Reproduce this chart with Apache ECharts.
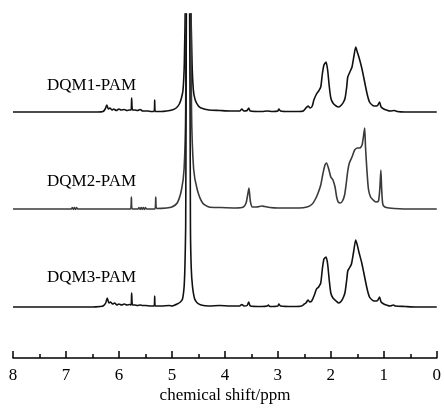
<!DOCTYPE html>
<html>
<head>
<meta charset="utf-8">
<script src="https://cdn.jsdelivr.net/npm/echarts@6/dist/echarts.min.js"></script>
<style>html,body{margin:0;padding:0;background:#fff}#c{width:444px;height:412px}</style>
</head>
<body>
<div id="c"></div>
<script>
// x ticks
const xTicks = [8, 7, 6, 5, 4, 3, 2, 1, 0];
const seriesNames = ['DQM1-PAM', 'DQM2-PAM', 'DQM3-PAM'];

// DQM1-PAM spectrum: [ppm, intensity]
const dqm1 = [[8.0,0],[7.0,0],[6.4,0],[6.3,0.5],[6.26,3],[6.23,7],[6.2,3],[6.17,4],[6.13,2],[6.1,3],[6.05,1.5],[6.0,3],[5.96,2],[5.9,2.5],[5.85,1.5],[5.8,2],[5.77,2],[5.76,14],[5.745,2],[5.7,2],[5.65,1.5],[5.6,2.5],[5.55,1],[5.45,1],[5.4,0.5],[5.335,0.5],[5.325,12],[5.315,0.5],[5.2,0.5],[5.1,1],[5.0,2],[4.92,4],[4.86,8],[4.82,14],[4.79,22],[4.765,50],[4.745,120],[4.728,400],[4.662,400],[4.645,120],[4.62,50],[4.595,22],[4.56,12],[4.5,6],[4.45,4],[4.3,2],[4.1,1.5],[3.9,1],[3.72,1],[3.68,3],[3.64,1],[3.58,1.5],[3.55,4],[3.52,1],[3.3,0.5],[3.2,1],[3.1,0.5],[3.0,1],[2.98,3],[2.95,1],[2.8,0.5],[2.6,0.5],[2.52,1],[2.47,4],[2.43,6],[2.39,4],[2.35,6],[2.32,12],[2.27,18],[2.23,21],[2.19,25],[2.16,38],[2.13,47],[2.09,50],[2.06,42],[2.03,26],[2.0,14],[1.96,9],[1.9,6],[1.85,5],[1.8,7],[1.76,10],[1.73,14],[1.7,25],[1.68,35],[1.64,40],[1.6,45],[1.56,57],[1.53,65],[1.5,60],[1.47,55],[1.42,45],[1.38,35],[1.35,27],[1.31,17],[1.27,10],[1.22,7],[1.18,6],[1.14,6],[1.11,7],[1.08,10],[1.05,5],[1.0,3],[0.95,2],[0.88,1],[0.8,1.5],[0.75,0.5],[0.6,0],[0,0]];

// DQM2-PAM spectrum
const dqm2 = [[8.0,0],[7.0,0],[6.9,0],[6.88,1.5],[6.86,-0.5],[6.84,1.5],[6.82,-0.5],[6.8,1.5],[6.78,0],[6.3,0],[5.78,0],[5.765,12],[5.75,0],[5.64,0],[5.62,1.5],[5.6,-0.5],[5.58,1.5],[5.56,-0.5],[5.54,1.5],[5.52,-0.5],[5.5,1.5],[5.48,0],[5.32,0],[5.305,12],[5.29,0.5],[5.1,1],[5.0,2],[4.9,6],[4.82,19],[4.77,40],[4.74,100],[4.72,400],[4.67,400],[4.63,100],[4.59,40],[4.52,19],[4.42,6],[4.3,2],[4.1,1.5],[3.8,1],[3.65,2],[3.6,6],[3.57,14],[3.545,21],[3.52,8],[3.48,2],[3.4,2],[3.3,3],[3.25,2.5],[3.15,1.5],[3.0,1],[2.6,1],[2.45,2],[2.35,5],[2.29,10],[2.24,16],[2.19,24],[2.15,35],[2.11,44],[2.08,46],[2.04,40],[2.0,32],[1.96,29],[1.92,22],[1.89,12],[1.86,7],[1.82,6],[1.78,8],[1.74,14],[1.71,25],[1.68,38],[1.65,46],[1.6,52],[1.55,59],[1.5,61],[1.45,61],[1.41,64],[1.38,74],[1.36,81],[1.345,62],[1.32,40],[1.29,20],[1.25,12],[1.2,9],[1.15,7],[1.1,8],[1.075,20],[1.055,39],[1.04,20],[1.02,5],[0.98,2],[0.9,1],[0.8,0.5],[0.5,0],[0,0]];

// DQM3-PAM spectrum
const dqm3 = [[8.0,0],[6.5,0],[6.35,0.5],[6.3,1],[6.25,4],[6.22,9],[6.19,4],[6.16,5],[6.12,3],[6.08,4],[6.04,2],[6.0,3],[5.95,2],[5.9,3],[5.85,2],[5.8,2.5],[5.77,2],[5.76,14],[5.745,2],[5.7,2],[5.65,1.5],[5.6,2],[5.55,1.5],[5.5,1.5],[5.4,1],[5.335,1],[5.325,11],[5.315,1],[5.2,1],[5.05,1.5],[5.0,1],[4.9,3],[4.84,5],[4.8,8],[4.77,20],[4.755,39],[4.74,80],[4.714,400],[4.676,400],[4.65,80],[4.635,39],[4.61,20],[4.57,8],[4.52,4],[4.45,2],[4.3,1],[4.1,1.5],[3.9,1],[3.72,1],[3.68,2.5],[3.64,1],[3.58,1.5],[3.55,5],[3.52,1],[3.3,0.5],[3.2,1],[3.18,2],[3.15,0.5],[3.0,1],[2.98,3],[2.95,1],[2.7,0.5],[2.55,1],[2.5,3],[2.47,4],[2.43,7],[2.4,5],[2.36,6],[2.31,12],[2.27,18],[2.23,20],[2.19,24],[2.16,38],[2.13,48],[2.09,50],[2.06,43],[2.03,27],[2.0,14],[1.96,9],[1.9,6],[1.85,4],[1.8,6],[1.76,10],[1.73,15],[1.7,27],[1.68,36],[1.65,39],[1.61,43],[1.57,55],[1.53,67],[1.5,62],[1.47,55],[1.42,45],[1.38,35],[1.35,27],[1.31,17],[1.27,10],[1.22,7],[1.18,6],[1.14,6],[1.11,7],[1.08,10],[1.05,5],[1.0,3],[0.95,2],[0.88,1],[0.82,2],[0.78,1],[0.6,0.5],[0.4,0],[0,0]];

// vertical stacking offsets (layout)
const offsets = [246, 149, 51];
const colors = ['#111', '#3a3a3a', '#111'];
const spectra = [dqm1, dqm2, dqm3];

const FONT = '"Liberation Serif","Times New Roman",serif';
const chart = echarts.init(document.getElementById('c'), null, {renderer: 'canvas'});

const series = spectra.map((d, i) => ({
  name: seriesNames[i],
  type: 'line',
  data: d.map(p => [p[0], p[1] + offsets[i]]),
  showSymbol: false,
  smooth: 0.2,
  clip: true,
  lineStyle: {color: colors[i], width: 1.6},
  animation: false
}));

chart.setOption({
  animation: false,
  grid: {left: 13, right: 7, top: 14, bottom: 54},
  xAxis: {
    type: 'value', min: 0, max: 8, interval: 1, inverse: true,
    axisLine: {lineStyle: {color: '#000', width: 1.5}},
    axisTick: {inside: true, length: 7, lineStyle: {color: '#000', width: 1.5}},
    minorTick: {show: true, splitNumber: 2, length: 4, lineStyle: {color: '#000', width: 1.5}},
    splitLine: {show: false},
    axisLabel: {color: '#000', fontSize: 17, fontFamily: FONT, margin: 9,
      formatter: v => xTicks.indexOf(v) >= 0 ? String(v) : ''}
  },
  yAxis: {type: 'value', min: 0, max: 344, show: false},
  graphic: [
    {type: 'text', left: 47, top: 77, style: {text: seriesNames[0], font: '17px ' + FONT, fill: '#000'}},
    {type: 'text', left: 47, top: 173, style: {text: seriesNames[1], font: '17px ' + FONT, fill: '#000'}},
    {type: 'text', left: 47, top: 269, style: {text: seriesNames[2], font: '17px ' + FONT, fill: '#000'}},
    {type: 'text', style: {x: 225, y: 396, text: 'chemical shift/ppm', font: '17px ' + FONT, fill: '#000', align: 'center', verticalAlign: 'middle'}}
  ],
  series: series
});
</script>
</body>
</html>
